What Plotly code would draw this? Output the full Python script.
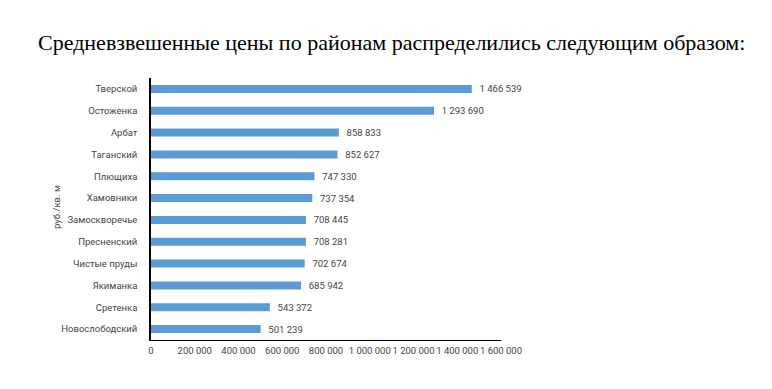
import plotly.graph_objects as go

districts = ["Тверской", "Остоженка", "Арбат", "Таганский", "Плющиха", "Хамовники",
             "Замоскворечье", "Пресненский", "Чистые пруды", "Якиманка", "Сретенка", "Новослободский"]
prices = [1466539, 1293690, 858833, 852627, 747330, 737354,
          708445, 708281, 702674, 685942, 543372, 501239]
x_ticks = [0, 200000, 400000, 600000, 800000, 1000000, 1200000, 1400000, 1600000]
x_tick_labels = ["0", "200 000", "400 000", "600 000", "800 000", "1 000 000", "1 200 000", "1 400 000", "1 600 000"]
title_text = "Средневзвешенные цены по районам распределились следующим образом:"
y_title = "руб./кв. м"

def fmt(v):
    return "  " + f"{v:,}".replace(",", " ")

font_fam = "Roboto, sans-serif"
txt_col = "#454545"

fig = go.Figure(go.Bar(
    x=prices, y=districts, orientation="h",
    marker=dict(color="#5B9BD5", line=dict(width=0)),
    text=[fmt(v) for v in prices], textposition="outside",
    constraintext="none",
    textfont=dict(family=font_fam, size=9.5, color=txt_col),
    cliponaxis=False,
))

# page body has an 8px margin, so the figure is shrunk by 8px and margins shifted
fig.update_layout(
    width=764, height=381,
    margin=dict(l=143, r=271, t=70, b=49, autoexpand=False),
    paper_bgcolor="white", plot_bgcolor="white",
    bargap=0.63,
    showlegend=False,
    font=dict(family=font_fam, size=9.5, color=txt_col),
    xaxis=dict(range=[0, 1600000], tickvals=x_ticks, ticktext=x_tick_labels,
               showgrid=False, zeroline=False, showline=True, linecolor="#000000", linewidth=1,
               ticks="", tickangle=0, automargin=False, ticklabelstandoff=2,
               tickfont=dict(size=9.5, color=txt_col)),
    yaxis=dict(autorange="reversed", showgrid=False, zeroline=False, automargin=False,
               showline=True, linecolor="#000000", linewidth=1.5, ticks="",
               ticklabelstandoff=10, tickfont=dict(size=9.5, color=txt_col)),
    annotations=[
        dict(text=title_text, xref="paper", yref="paper", x=(391 - 151) / 350, y=1 + (78 - 42) / 262,
             xanchor="center", yanchor="middle", showarrow=False,
             font=dict(family="Liberation Serif, Times New Roman, serif", size=22, color="#000000")),
        dict(text=y_title, xref="paper", yref="paper", x=(56 - 151) / 350, y=(340 - 207) / 262,
             xanchor="center", yanchor="middle", showarrow=False, textangle=-90,
             font=dict(family=font_fam, size=9.5, color=txt_col)),
    ],
)

fig.write_html("out.html")
